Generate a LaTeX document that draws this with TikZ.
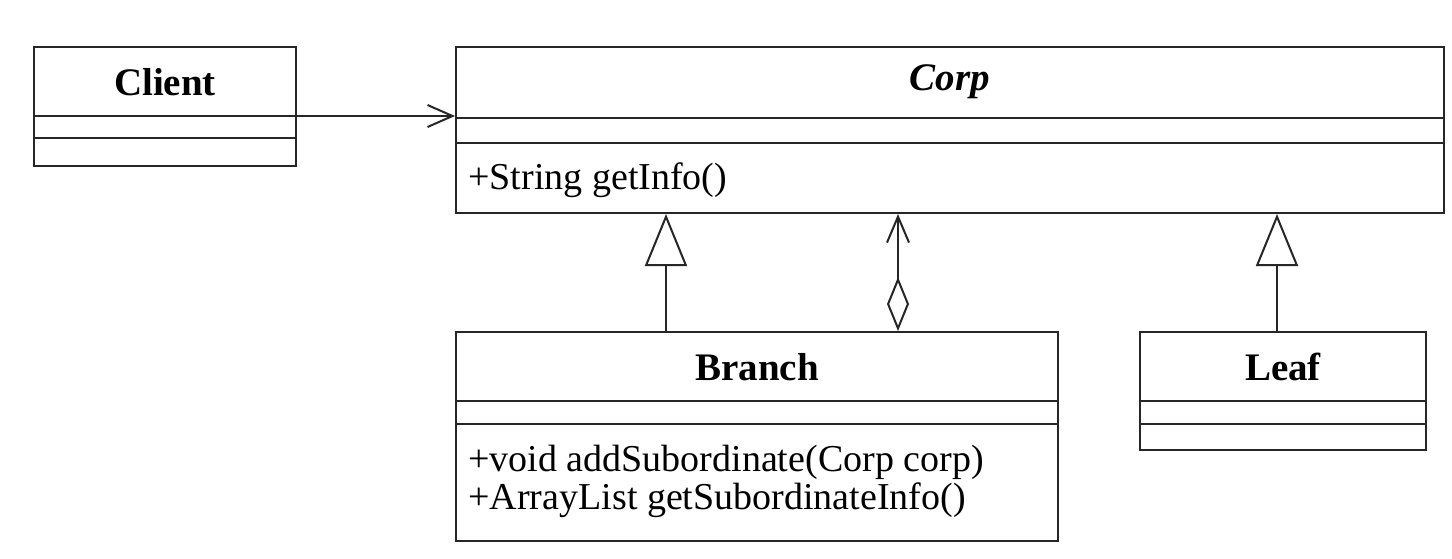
\documentclass[tikz,border=0pt]{standalone}
\usepackage{fontspec}
\setmainfont{Liberation Serif}
\usetikzlibrary{arrows.meta}
\begin{document}
\begin{tikzpicture}[x=0.5pt,y=-0.5pt,
  every node/.style={font=\fontsize{19}{19}\selectfont},
  classbox/.style={draw=black!85, line width=1pt, rectangle, inner sep=0pt},
  title/.style={font=\fontsize{19.5}{19.5}\selectfont\bfseries, inner sep=0pt},
  method/.style={anchor=west, inner sep=0pt},
  divider/.style={draw=black!85, line width=1pt},
  assoc/.style={draw=black!85, line width=1pt, -{Straight Barb[length=12.5pt,width=11pt,line width=1pt]}},
  inherit/.style={draw=black!85, line width=1pt, -{Triangle[open,length=26pt,width=21pt,line width=1pt,fill=white]}},
  aggr/.style={draw=black!85, line width=1pt, {Diamond[open,length=27pt,width=11pt,line width=1pt,fill=white]}-{Straight Barb[length=13pt,width=11pt,line width=1pt]}}
]
\useasboundingbox[fill=white] (0,0) rectangle (1452,558);

% Client
\node[classbox, minimum width=131pt, minimum height=59.5pt] (client) at (165,106.5) {};
\node[title] (clientT) at (165,82) {Client};
\coordinate (cd1) at (0,116);
\coordinate (cd2) at (0,138);
\draw[divider] (client.west |- cd1) -- (client.east |- cd1);
\draw[divider] (client.west |- cd2) -- (client.east |- cd2);

% Corp
\node[classbox, minimum width=494pt, minimum height=83pt] (corp) at (950,130) {};
\node[title, font=\fontsize{19.5}{19.5}\selectfont\bfseries\itshape] (corpT) at (950,82) {Corp};
\coordinate (pd1) at (0,118);
\coordinate (pd2) at (0,143);
\draw[divider] (corp.west |- pd1) -- (corp.east |- pd1);
\draw[divider] (corp.west |- pd2) -- (corp.east |- pd2);
\node[method] (corpM) at (468,180) {+String getInfo()};

% Branch
\node[classbox, minimum width=301pt, minimum height=104.5pt] (branch) at (757,436.5) {};
\node[title] (branchT) at (757,367) {Branch};
\coordinate (bd1) at (0,401);
\coordinate (bd2) at (0,424);
\draw[divider] (branch.west |- bd1) -- (branch.east |- bd1);
\draw[divider] (branch.west |- bd2) -- (branch.east |- bd2);
\node[method] (branchM1) at (468,462) {+void addSubordinate(Corp corp)};
\node[method] (branchM2) at (468,500) {+ArrayList getSubordinateInfo()};

% Leaf
\node[classbox, minimum width=143pt, minimum height=59pt] (leaf) at (1283,391) {};
\node[title] (leafT) at (1283,367) {Leaf};
\draw[divider] (leaf.west |- bd1) -- (leaf.east |- bd1);
\draw[divider] (leaf.west |- bd2) -- (leaf.east |- bd2);

% connectors
\draw[assoc] (client.east |- cd1) -- (corp.west |- cd1);
\coordinate (ix1) at (666,0);
\coordinate (ix2) at (898,0);
\coordinate (ix3) at (1277,0);
\draw[inherit] (branch.north -| ix1) -- (corp.south -| ix1);
\draw[aggr] (branch.north -| ix2) -- (corp.south -| ix2);
\draw[inherit] (leaf.north -| ix3) -- (corp.south -| ix3);
\end{tikzpicture}
\end{document}
